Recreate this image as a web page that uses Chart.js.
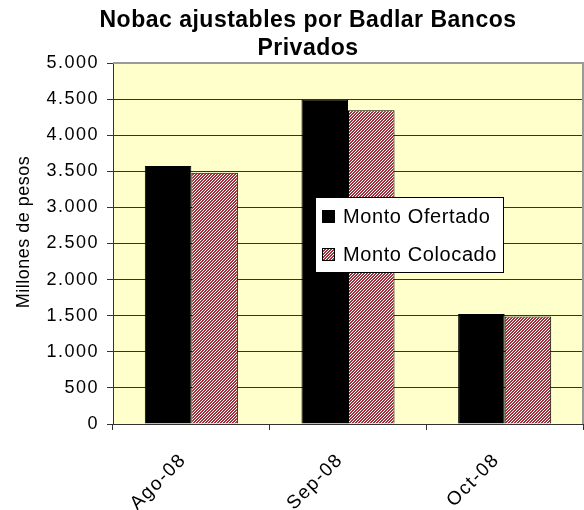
<!DOCTYPE html>
<html>
<head>
<meta charset="utf-8">
<script src="https://cdn.jsdelivr.net/npm/chart.js@4"></script>
<style>
html,body{margin:0;padding:0;background:#fff;}
#wrap{width:584px;height:510px;}
</style>
</head>
<body>
<div id="wrap"><canvas id="c" width="584" height="510"></canvas></div>
<script>
const titleLines = ['Nobac ajustables por Badlar Bancos', 'Privados'];
const yAxisTitle = 'Millones de pesos';
const categories = ['Ago-08', 'Sep-08', 'Oct-08'];
const seriesNames = ['Monto Ofertado', 'Monto Colocado'];
const ofertado = [3575, 4490, 1525];
const colocado = [3480, 4345, 1490];
const yTickLabels = ['0', '500', '1.000', '1.500', '2.000', '2.500', '3.000', '3.500', '4.000', '4.500', '5.000'];

const FONT = "'Liberation Sans', Arial, sans-serif";

function makePattern() {
  const p = document.createElement('canvas');
  p.width = 3; p.height = 3;
  const g = p.getContext('2d');
  g.fillStyle = '#ffffff';
  g.fillRect(0, 0, 3, 3);
  g.fillStyle = '#a0303c';
  for (let x = 0; x < 3; x++) for (let y = 0; y < 3; y++) {
    if ((x + y) % 3 < 2) g.fillRect(x, y, 1, 1);
  }
  return document.getElementById('c').getContext('2d').createPattern(p, 'repeat');
}
const hatch = makePattern();

const decor = {
  id: 'decor',
  beforeUpdate(chart) { chart.ctx.letterSpacing = '1.5px'; },
  beforeDraw(chart) {
    const {ctx, chartArea: a} = chart;
    ctx.save();
    ctx.fillStyle = '#ffffcc';
    ctx.fillRect(a.left, a.top, a.right - a.left, a.bottom - a.top);
    ctx.restore();
    ctx.letterSpacing = '1.5px';
  },
  afterDraw(chart) {
    const {ctx, chartArea: a} = chart;
    ctx.save();
    ctx.strokeStyle = '#9a9a9a';
    ctx.lineWidth = 2;
    ctx.beginPath();
    ctx.moveTo(a.left, a.top);
    ctx.lineTo(a.right, a.top);
    ctx.lineTo(a.right, a.bottom);
    ctx.stroke();
    ctx.letterSpacing = '0.5px';
    ctx.fillStyle = '#000';
    ctx.font = "bold 23px " + FONT;
    ctx.textAlign = 'center';
    ctx.textBaseline = 'alphabetic';
    ctx.fillText(titleLines[0], 308, 27);
    ctx.fillText(titleLines[1], 308, 55);
    ctx.letterSpacing = '0.5px';
    ctx.font = "18px " + FONT;
    ctx.translate(24, 232);
    ctx.rotate(-Math.PI / 2);
    ctx.textBaseline = 'middle';
    ctx.fillText(yAxisTitle, 0, 0);
    ctx.restore();
    ctx.save();
    ctx.fillStyle = '#fff';
    ctx.fillRect(315, 197, 188, 75);
    ctx.strokeStyle = '#000';
    ctx.lineWidth = 1;
    ctx.strokeRect(315.5, 197.5, 188, 75);
    const boxes = [{fill: '#000', y: 210}, {fill: hatch, y: 248}];
    ctx.letterSpacing = '0.6px';
    ctx.font = "20px " + FONT;
    ctx.textAlign = 'left';
    ctx.textBaseline = 'alphabetic';
    boxes.forEach((b, i) => {
      ctx.fillStyle = b.fill;
      ctx.fillRect(322, b.y, 12, 12);
      ctx.strokeStyle = '#000';
      ctx.strokeRect(322.5, b.y + 0.5, 12, 12);
      ctx.fillStyle = '#000';
      ctx.fillText(seriesNames[i], 343, b.y + 13);
    });
    ctx.restore();
  }
};

new Chart(document.getElementById('c'), {
  type: 'bar',
  data: {
    labels: categories,
    datasets: [
      {label: seriesNames[0], data: ofertado, backgroundColor: '#000', borderColor: '#000', borderWidth: 1},
      {label: seriesNames[1], data: colocado, backgroundColor: hatch, borderColor: '#000', borderWidth: 1}
    ]
  },
  options: {
    responsive: false,
    animation: false,
    devicePixelRatio: 1,
    layout: {padding: {top: 63, right: 1, left: 0, bottom: 0}},
    datasets: {bar: {categoryPercentage: 0.594, barPercentage: 1.0}},
    plugins: {legend: {display: false}, title: {display: false}, tooltip: {enabled: false}},
    scales: {
      x: {
        afterFit(s) { s.height = 86; },
        grid: {display: true, drawOnChartArea: false, offset: true, tickLength: 6, color: '#333', lineWidth: 1},
        border: {display: true, color: '#333', width: 1},
        ticks: {color: '#000', font: {family: FONT, size: 19}, minRotation: 45, maxRotation: 45, padding: 19, labelOffset: -8, autoSkip: false}
      },
      y: {
        min: 0, max: 5000,
        afterFit(s) { s.width = 113; },
        grid: {
          color: (c) => (c.tick && c.tick.value === 5000 ? '#9a9a9a' : '#333'),
          tickColor: '#333', lineWidth: 1, tickLength: 6
        },
        border: {display: true, color: '#333', width: 1},
        ticks: {
          stepSize: 500, color: '#000', padding: 8,
          font: {family: FONT, size: 18},
          callback: (v, i) => yTickLabels[i]
        }
      }
    }
  },
  plugins: [decor]
});
</script>
</body>
</html>
